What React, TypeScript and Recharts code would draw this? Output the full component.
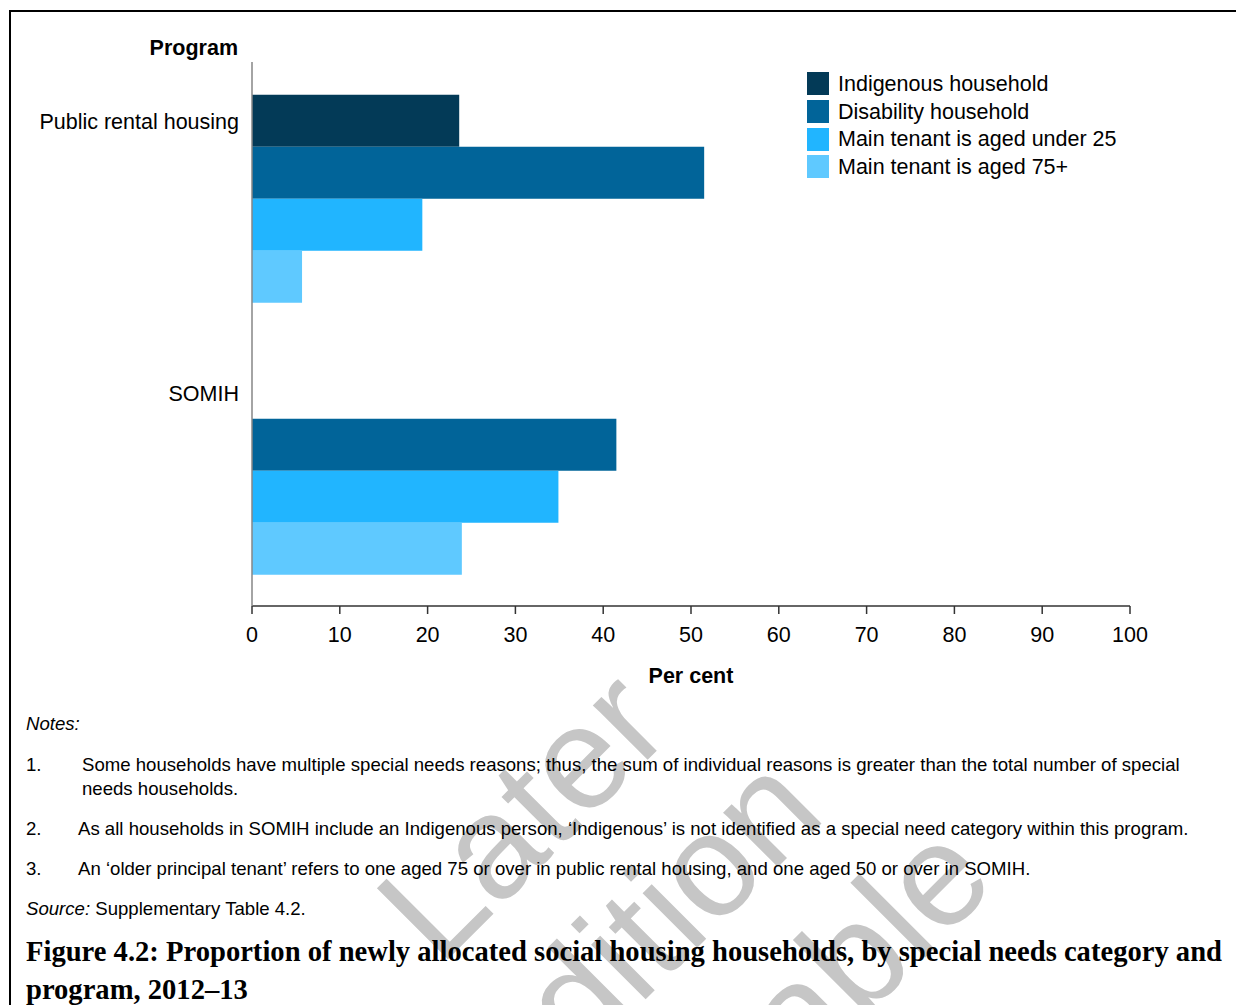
import React from 'react';
import { BarChart, Bar, XAxis, YAxis, Legend, Label } from 'recharts';

// Share of newly allocated households with each special need (%)
const programs = ['Public rental housing', 'SOMIH'];
const indigenous = [23.6, null];
const disability = [51.5, 41.5];
const agedUnder25 = [19.4, 34.9];
const aged75Plus = [5.7, 23.9];

const xTicks = [0, 10, 20, 30, 40, 50, 60, 70, 80, 90, 100];

const seriesKeys = ['indigenous', 'disability', 'agedUnder25', 'aged75Plus'];
const seriesNames = [
  'Indigenous household',
  'Disability household',
  'Main tenant is aged under 25',
  'Main tenant is aged 75+',
];
const seriesColors = ['#033a57', '#016499', '#21b5ff', '#5fc9ff'];

const data = programs.map((program, i) => ({
  program,
  indigenous: indigenous[i],
  disability: disability[i],
  agedUnder25: agedUnder25[i],
  aged75Plus: aged75Plus[i],
}));

const notes = [
  {
    num: '1.',
    indent: 82,
    lines: [
      'Some households have multiple special needs reasons; thus, the sum of individual reasons is greater than the total number of special',
      'needs households.',
    ],
  },
  {
    num: '2.',
    indent: 78,
    lines: [
      'As all households in SOMIH include an Indigenous person, \u2018Indigenous\u2019 is not identified as a special need category within this program.',
    ],
  },
  {
    num: '3.',
    indent: 78,
    lines: [
      'An \u2018older principal tenant\u2019 refers to one aged 75 or over in public rental housing, and one aged 50 or over in SOMIH.',
    ],
  },
];
const noteTops = [765, 829, 869];

const sans = '"Liberation Sans", Arial, sans-serif';
const serif = '"Liberation Serif", "DejaVu Serif", serif';
const chartFont = 21.5;

function ProgramTick(props: any) {
  const { x, y, payload } = props;
  // labels sit near the top of each category band
  return (
    <text x={x} y={y - 77} dy="0.36em" textAnchor="end" fontSize={chartFont} fontFamily={sans} fill="#000">
      {payload.value}
    </text>
  );
}

function LegendList(props: any) {
  const items = [...(props.payload || [])].sort(
    (a: any, b: any) => seriesNames.indexOf(a.value) - seriesNames.indexOf(b.value)
  );
  return (
    <div style={{ fontFamily: sans, fontSize: chartFont, color: '#000' }}>
      {items.map((entry: any) => (
        <div key={entry.value} style={{ display: 'flex', alignItems: 'center', height: 27.7 }}>
          <span style={{ width: 22, height: 23, background: entry.color, marginRight: 9, display: 'inline-block' }} />
          <span style={{ lineHeight: '24px', whiteSpace: 'nowrap' }}>{entry.value}</span>
        </div>
      ))}
    </div>
  );
}

function Watermark() {
  const lines = ['Later', 'edition', 'available'];
  return (
    <svg width={1236} height={1005} style={{ position: 'absolute', left: 0, top: 0 }}>
      <g transform="translate(676,969) rotate(-45)">
        {lines.map((t, i) => (
          <text
            key={t}
            x={0}
            y={(i - 1) * 168}
            textAnchor="middle"
            fontFamily={sans}
            fontSize={146}
            fill="#c6c6c6"
          >
            {t}
          </text>
        ))}
      </g>
    </svg>
  );
}

export default function App() {
  const textLine = (top: number, left: number, content: React.ReactNode, key?: string) => (
    <div
      key={key}
      style={{
        position: 'absolute',
        top: top - 11,
        left,
        lineHeight: '22px',
        fontFamily: sans,
        fontSize: 18.6,
        color: '#000',
        whiteSpace: 'nowrap',
      }}
    >
      {content}
    </div>
  );

  return (
    <div style={{ position: 'fixed', left: 0, top: 0, width: 1236, height: 1005, overflow: 'hidden', background: '#fff' }}>
      <Watermark />
      {/* page frame */}
      <div
        style={{
          position: 'absolute',
          left: 9,
          top: 10,
          width: 1300,
          height: 1100,
          borderTop: '2px solid #000',
          borderLeft: '2px solid #000',
        }}
      />

      <div style={{ position: 'absolute', left: 0, top: 0 }}>
        <BarChart
          width={1236}
          height={720}
          data={data}
          layout="vertical"
          margin={{ top: 62, right: 106, bottom: 64, left: 152 }}
          barCategoryGap="12%"
          barGap={0}
        >
          <XAxis
            type="number"
            domain={[0, 100]}
            ticks={xTicks}
            interval={0}
            height={50}
            tickSize={8}
            tickMargin={13}
            axisLine={{ stroke: '#333', strokeWidth: 1.5 }}
            tickLine={{ stroke: '#333', strokeWidth: 1.5 }}
            tick={{ fontSize: chartFont, fill: '#000', fontFamily: sans }}
          >
            <Label
              value="Per cent"
              position="bottom"
              offset={12}
              style={{ fontSize: chartFont, fontWeight: 'bold', fill: '#000', fontFamily: sans }}
            />
          </XAxis>
          <YAxis
            type="category"
            dataKey="program"
            width={100}
            tickLine={false}
            tickMargin={7}
            axisLine={{ stroke: '#868686', strokeWidth: 1.5 }}
            tick={<ProgramTick />}
          />
          <Legend
            layout="vertical"
            align="center"
            verticalAlign="middle"
            content={<LegendList />}
            wrapperStyle={{ left: 807, top: 70, width: 380, height: 115 }}
          />
          {seriesKeys.map((key, i) => (
            <Bar key={key} dataKey={key} name={seriesNames[i]} fill={seriesColors[i]} isAnimationActive={false} />
          ))}
        </BarChart>
      </div>

      <div
        style={{
          position: 'absolute',
          top: 36,
          left: 38,
          width: 200,
          textAlign: 'right',
          lineHeight: '24px',
          fontFamily: sans,
          fontSize: chartFont,
          fontWeight: 'bold',
          color: '#000',
        }}
      >
        Program
      </div>

      {textLine(724, 26, <i>Notes:</i>)}
      {notes.map((n, i) => (
        <React.Fragment key={n.num}>
          {textLine(noteTops[i], 26, n.num)}
          {n.lines.map((l, j) => textLine(noteTops[i] + j * 24, n.indent, l, `${n.num}-${j}`))}
        </React.Fragment>
      ))}
      {textLine(909, 26, (
        <>
          <i>Source:</i> Supplementary Table 4.2.
        </>
      ))}

      <div
        style={{
          position: 'absolute',
          left: 26,
          top: 933,
          lineHeight: '38px',
          fontFamily: serif,
          fontSize: 28.6,
          fontWeight: 'bold',
          color: '#000',
          whiteSpace: 'nowrap',
        }}
      >
        Figure 4.2: Proportion of newly allocated social housing households, by special needs category and
        <br />
        program, 2012–13
      </div>
    </div>
  );
}
